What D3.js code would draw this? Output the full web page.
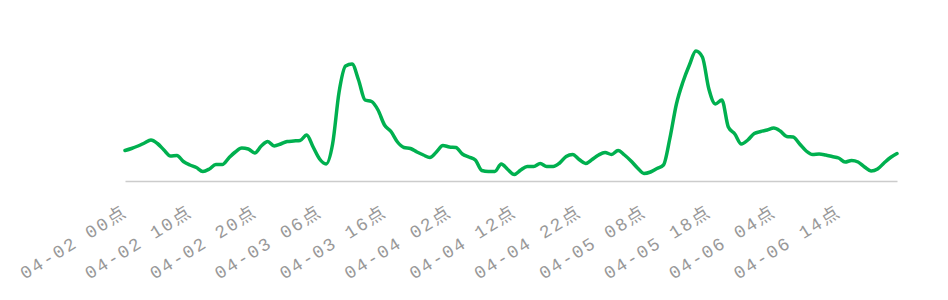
<!DOCTYPE html>
<html>
<head>
<meta charset="utf-8">
<script src="https://cdn.jsdelivr.net/npm/d3@7"></script>
<style>
  body { margin: 0; background: #fff; }
  .tick text { font-family: "Liberation Mono", "Noto Sans CJK SC", monospace; }
</style>
</head>
<body>
<svg id="chart" width="948" height="300"></svg>
<script>
// hourly values, 04-02 00点 .. 04-06 23点
var values = [
  30.5, 32.5, 35, 38, 41, 37.5, 31, 25, 25.5, 19.5,
  16, 13.5, 9.5, 12, 16.5, 16.5, 23, 29, 33, 32,
  28, 35, 39.5, 35, 37, 39.5, 40, 40.5, 46, 34,
  22, 17, 37, 89, 115, 117, 101, 81, 79.5, 71,
  56, 49.5, 39, 33.5, 32.5, 29, 26, 23.5, 29, 35.5,
  34, 33.5, 27, 24, 21, 10.5, 9.5, 9.5, 17, 11.5,
  6.5, 11, 14.5, 14.5, 17.5, 14.5, 14.5, 18, 24.5, 26.5,
  21.5, 17.5, 21.5, 26, 28.5, 26.5, 30.5, 26, 20, 13,
  7.5, 9, 12.5, 16, 43, 77, 99, 116, 130, 124,
  92, 77, 81, 54, 47, 37, 41, 47.5, 49.5, 51,
  53, 50, 44.5, 44, 37, 30, 26.5, 27, 26, 24.5,
  23, 19, 20.5, 19, 14, 10, 12, 18, 23.5, 27.5
];
var tickHours = [0, 10, 20, 30, 40, 50, 60, 70, 80, 90, 100, 110];
var tickLabels = [
  "04-02 00点", "04-02 10点", "04-02 20点", "04-03 06点",
  "04-03 16点", "04-04 02点", "04-04 12点", "04-04 22点",
  "04-05 08点", "04-05 18点", "04-06 04点", "04-06 14点"
];

var svg = d3.select("#chart");
var plotLeft = 125, plotRight = 897, plotTop = 41, plotBottom = 181;

var x = d3.scaleLinear().domain([0, values.length - 1]).range([plotLeft, plotRight]);
var y = d3.scaleLinear().domain([0, 140]).range([plotBottom, plotTop]);

// x axis
var axis = d3.axisBottom(x)
    .tickValues(tickHours)
    .tickSize(0)
    .tickPadding(0)
    .tickFormat(function (d, i) { return tickLabels[i]; });

var g = svg.append("g")
    .attr("transform", "translate(0," + plotBottom + ")")
    .call(axis);

g.select(".domain")
    .attr("stroke", "#cccccc")
    .attr("stroke-width", 1.5);

g.selectAll(".tick text")
    .attr("fill", "#999")
    .attr("font-size", 18)
    .attr("letter-spacing", 2)
    .attr("text-anchor", "end")
    .attr("transform", "translate(3,34) rotate(-32)")
    .attr("dy", "0");

// line
var line = d3.line()
    .x(function (d, i) { return x(i); })
    .y(function (d) { return y(d); })
    .curve(d3.curveMonotoneX);

svg.append("path")
    .datum(values)
    .attr("fill", "none")
    .attr("stroke", "#00b04f")
    .attr("stroke-width", 3.5)
    .attr("stroke-linejoin", "round")
    .attr("stroke-linecap", "round")
    .attr("d", line);
</script>
</body>
</html>
